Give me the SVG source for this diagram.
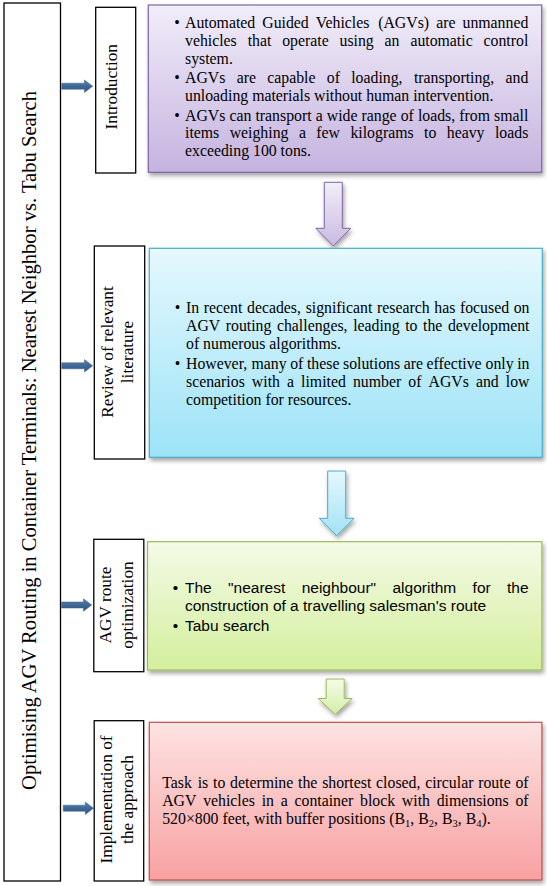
<svg xmlns="http://www.w3.org/2000/svg" width="547" height="886" viewBox="0 0 547 886">
<defs>
<style>
.lbl{fill:#fff;stroke:#000;stroke-width:1.3}
.t{font-family:"Liberation Serif","Times New Roman",serif;fill:#000}
.b{font-size:15.8px}
.vl{font-size:17.3px;text-anchor:middle}
.s{font-family:"Liberation Sans",Arial,sans-serif;font-size:15.5px;fill:#000}
.e{text-anchor:end}
.bul{text-anchor:middle}
</style>
<filter id="sh" x="-10%" y="-10%" width="125%" height="130%"><feDropShadow dx="1.5" dy="3" stdDeviation="2" flood-color="#000" flood-opacity="0.35"/></filter>
<linearGradient id="gP" x1="0" y1="0" x2="0" y2="1"><stop offset="0" stop-color="#f1edf9"/><stop offset="1" stop-color="#c5b3df"/></linearGradient>
<linearGradient id="gB" x1="0" y1="0" x2="0" y2="1"><stop offset="0" stop-color="#e5f8fd"/><stop offset="1" stop-color="#9ce3f8"/></linearGradient>
<linearGradient id="gG" x1="0" y1="0" x2="0" y2="1"><stop offset="0" stop-color="#f4fae7"/><stop offset="1" stop-color="#d3ef9c"/></linearGradient>
<linearGradient id="gR" x1="0" y1="0" x2="0" y2="1"><stop offset="0" stop-color="#fde3e3"/><stop offset="1" stop-color="#f8a1a1"/></linearGradient>
<linearGradient id="aP" x1="0" y1="0" x2="0" y2="1"><stop offset="0" stop-color="#f2eef9"/><stop offset="1" stop-color="#c9b9e3"/></linearGradient>
<linearGradient id="aB" x1="0" y1="0" x2="0" y2="1"><stop offset="0" stop-color="#e5f8fd"/><stop offset="1" stop-color="#a3e2f5"/></linearGradient>
<linearGradient id="aG" x1="0" y1="0" x2="0" y2="1"><stop offset="0" stop-color="#f5fbe8"/><stop offset="1" stop-color="#d5eda8"/></linearGradient>
<linearGradient id="aL" x1="0" y1="0" x2="0" y2="1"><stop offset="0" stop-color="#5a82b2"/><stop offset="0.5" stop-color="#3f6797"/><stop offset="1" stop-color="#34577f"/></linearGradient>
</defs>
<rect width="547" height="886" fill="#fff"/>

<g id="title">
<rect class="lbl" x="4" y="3" width="56.5" height="878"/>
<text class="t" font-size="20.6" text-anchor="middle" transform="translate(35.5,440.5) rotate(-90)">Optimising AGV Routing in Container Terminals: Nearest Neighbor vs. Tabu Search</text>
</g>

<g id="connectors">
<path fill="url(#aL)" stroke="#375c88" stroke-width="0.5" d="M61.7,83.2 H84.5 V80 L92.7,86.2 L84.5,92.4 V89.2 H61.7 Z"/>
<path fill="url(#aL)" stroke="#375c88" stroke-width="0.5" d="M61.7,362.8 H84.5 V359.6 L92.7,365.8 L84.5,372 V368.8 H61.7 Z"/>
<path fill="url(#aL)" stroke="#375c88" stroke-width="0.5" d="M61.5,602 H83.5 V598.8 L91.7,605 L83.5,611.2 V608 H61.5 Z"/>
<path fill="url(#aL)" stroke="#375c88" stroke-width="0.5" d="M63.3,805.2 H85.3 V802 L93.5,808.2 L85.3,814.4 V811.2 H63.3 Z"/>
<path filter="url(#sh)" fill="url(#aP)" stroke="#8064a2" stroke-width="1" d="M324.3,182.3 H342.3 V228.3 H350.8 L333.3,246 L315.8,228.3 H324.3 Z"/>
<path filter="url(#sh)" fill="url(#aB)" stroke="#4bacc6" stroke-width="1" d="M327.7,471 H345.7 V518.3 H354.2 L336.7,535.7 L319.2,518.3 H327.7 Z"/>
<path filter="url(#sh)" fill="url(#aG)" stroke="#9bbb59" stroke-width="1" d="M326.2,679 H344.2 V698.5 H352.2 L335.2,714.3 L318.2,698.5 H326.2 Z"/>
</g>

<g id="intro-label">
<rect class="lbl" x="95.7" y="7.3" width="40" height="165.7"/>
<text class="t vl" transform="translate(117,86.7) rotate(-90)">Introduction</text>
</g>

<g id="intro-box">
<rect filter="url(#sh)" x="148.3" y="5" width="393.4" height="167.3" fill="url(#gP)" stroke="#8064a2" stroke-width="1.2"/>
<g class="t b">
<text class="bul" x="177" y="28">•</text>
<text y="28"><tspan x="185">Automated</tspan><tspan x="262.28">Guided</tspan><tspan x="315.86">Vehicles</tspan><tspan x="378.2">(AGVs)</tspan><tspan x="436.15">are</tspan><tspan class="e" x="528.3">unmanned</tspan></text>
<text y="46"><tspan x="185">vehicles</tspan><tspan x="247.63">that</tspan><tspan x="282.18">operate</tspan><tspan x="339.52">using</tspan><tspan x="384.61">an</tspan><tspan x="410.38">automatic</tspan><tspan class="e" x="528.3">control</tspan></text>
<text x="185" y="63.5">system.</text>
<text class="bul" x="177" y="83">•</text>
<text y="83"><tspan x="185">AGVs</tspan><tspan x="236.66">are</tspan><tspan x="267.24">capable</tspan><tspan x="326.78">of</tspan><tspan x="351.24">loading,</tspan><tspan x="413.88">transporting,</tspan><tspan class="e" x="528.3">and</tspan></text>
<text x="185" y="100.7">unloading materials without human intervention.</text>
<text class="bul" x="177" y="120.5">•</text>
<text y="120.5"><tspan x="185">AGVs</tspan><tspan x="229.43">can</tspan><tspan x="255.43">transport</tspan><tspan x="315.66">a</tspan><tspan x="326.74">wide</tspan><tspan x="361.53">range</tspan><tspan x="400.68">of</tspan><tspan x="417.91">loads,</tspan><tspan x="459.27">from</tspan><tspan class="e" x="528.3">small</tspan></text>
<text y="138.3"><tspan x="185">items</tspan><tspan x="229.67">weighing</tspan><tspan x="298.9">a</tspan><tspan x="316.34">few</tspan><tspan x="350.45">kilograms</tspan><tspan x="424.07">to</tspan><tspan x="446.8">heavy</tspan><tspan class="e" x="528.3">loads</tspan></text>
<text x="185" y="156.3">exceeding 100 tons.</text>
</g>
</g>

<g id="review-label">
<rect class="lbl" x="94.3" y="246" width="50.4" height="213"/>
<text class="t vl" transform="translate(112.7,352) rotate(-90)">Review of relevant</text>
<text class="t vl" transform="translate(132.7,352) rotate(-90)">literature</text>
</g>

<g id="review-box">
<rect filter="url(#sh)" x="149.3" y="248.3" width="393" height="209" fill="url(#gB)" stroke="#4bacc6" stroke-width="1.2"/>
<g class="t b">
<text class="bul" x="177.5" y="313">•</text>
<text y="313"><tspan x="186">In</tspan><tspan x="203.81">recent</tspan><tspan x="247.04">decades,</tspan><tspan x="305.63">significant</tspan><tspan x="376.97">research</tspan><tspan x="434.24">has</tspan><tspan x="459.94">focused</tspan><tspan class="e" x="529.5">on</tspan></text>
<text y="331"><tspan x="186">AGV</tspan><tspan x="225.76">routing</tspan><tspan x="276.95">challenges,</tspan><tspan x="353.13">leading</tspan><tspan x="405.19">to</tspan><tspan x="423.03">the</tspan><tspan class="e" x="529.5">development</tspan></text>
<text x="186" y="349">of numerous algorithms.</text>
<text class="bul" x="177.5" y="368.5">•</text>
<text y="368.5"><tspan x="186">However,</tspan><tspan x="251.46">many</tspan><tspan x="290.17">of</tspan><tspan x="306.95">these</tspan><tspan x="343.03">solutions</tspan><tspan x="403.71">are</tspan><tspan x="426.61">effective</tspan><tspan x="485.49">only</tspan><tspan class="e" x="529.5">in</tspan></text>
<text y="386.5"><tspan x="186">scenarios</tspan><tspan x="251.85">with</tspan><tspan x="287.01">a</tspan><tspan x="301.09">limited</tspan><tspan x="352.93">number</tspan><tspan x="408.26">of</tspan><tspan x="428.49">AGVs</tspan><tspan x="475.92">and</tspan><tspan class="e" x="529.5">low</tspan></text>
<text x="186" y="404.5">competition for resources.</text>
</g>
</g>

<g id="optimization-label">
<rect class="lbl" x="93.8" y="539.3" width="50" height="132.4"/>
<text class="t vl" transform="translate(111,605) rotate(-90)">AGV route</text>
<text class="t vl" transform="translate(132.6,605) rotate(-90)">optimization</text>
</g>

<g id="optimization-box">
<rect filter="url(#sh)" x="147.5" y="541.7" width="394.4" height="128.3" fill="url(#gG)" stroke="#9bbb59" stroke-width="1.2"/>
<text class="s bul" x="175.5" y="593">•</text>
<text class="s" y="593"><tspan x="185">The</tspan><tspan x="228.09">"nearest</tspan><tspan x="301.67">neighbour"</tspan><tspan x="392.48">algorithm</tspan><tspan x="472.6">for</tspan><tspan class="e" x="528.6">the</tspan></text>
<text class="s" x="185" y="611">construction of a travelling salesman's route</text>
<text class="s bul" x="175.5" y="631">•</text>
<text class="s" x="185" y="631">Tabu search</text>
</g>

<g id="implementation-label">
<rect class="lbl" x="94.2" y="720.7" width="49.5" height="160.3"/>
<text class="t vl" transform="translate(111.7,799.5) rotate(-90)">Implementation of</text>
<text class="t vl" transform="translate(132.6,799.5) rotate(-90)">the approach</text>
</g>

<g id="implementation-box">
<rect filter="url(#sh)" x="149.3" y="722.3" width="392.6" height="157.7" fill="url(#gR)" stroke="#c0504d" stroke-width="1.2"/>
<g class="t b">
<text y="788.3"><tspan x="162.2">Task</tspan><tspan x="197.7">is</tspan><tspan x="213.02">to</tspan><tspan x="230.1">determine</tspan><tspan x="298.06">the</tspan><tspan x="322.15">shortest</tspan><tspan x="376.08">closed,</tspan><tspan x="425.18">circular</tspan><tspan x="478.21">route</tspan><tspan class="e" x="528.6">of</tspan></text>
<text y="806"><tspan x="162.2">AGV</tspan><tspan x="203.16">vehicles</tspan><tspan x="261.68">in</tspan><tspan x="280.72">a</tspan><tspan x="294.48">container</tspan><tspan x="360.01">block</tspan><tspan x="401.85">with</tspan><tspan x="436.69">dimensions</tspan><tspan class="e" x="528.6">of</tspan></text>
<text x="162.2" y="824">520×800 feet, with buffer positions (B<tspan dy="3" font-size="10.5">1</tspan><tspan dy="-3">, B</tspan><tspan dy="3" font-size="10.5">2</tspan><tspan dy="-3">, B</tspan><tspan dy="3" font-size="10.5">3</tspan><tspan dy="-3">, B</tspan><tspan dy="3" font-size="10.5">4</tspan><tspan dy="-3">).</tspan></text>
</g>
</g>
</svg>
